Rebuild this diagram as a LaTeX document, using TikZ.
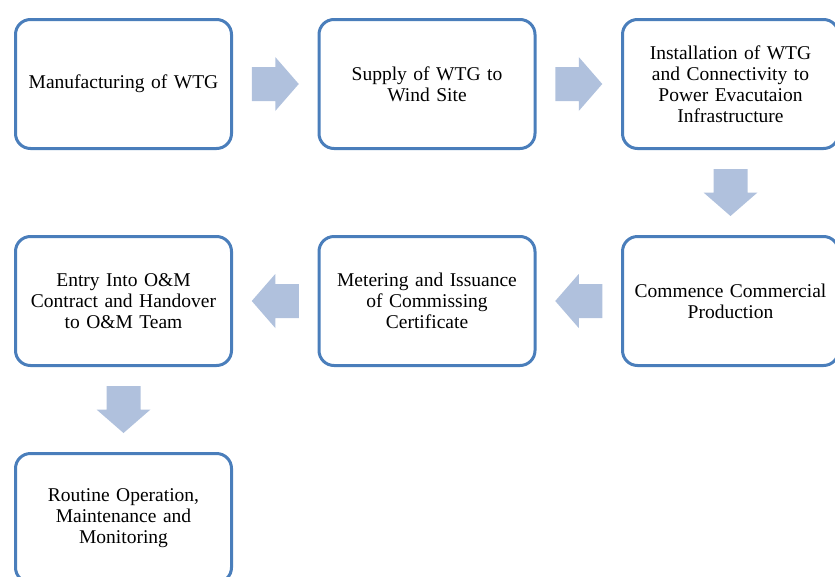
\documentclass[tikz,border=0pt]{standalone}
\usepackage{fontspec}
\setmainfont{Liberation Serif}
\usetikzlibrary{calc}
\definecolor{boxblue}{RGB}{74,126,187}
\definecolor{arrowfill}{RGB}{176,193,221}
\begin{document}
\begin{tikzpicture}[x=1pt,y=-1pt,
  stepbox/.style={draw=boxblue, line width=3pt, rounded corners=15pt,
    minimum width=216pt, minimum height=129pt, text width=210pt,
    align=center, font=\fontsize{19.5}{21}\selectfont, inner sep=0pt},
  blockarrow/.pic={\fill[arrowfill] (-23.5,-17) -- (0,-17) -- (0,-27)
    -- (23.5,0) -- (0,27) -- (0,17) -- (-23.5,17) -- cycle;}]
\path[use as bounding box] (0,0) rectangle (835,576);
\clip (0,0) rectangle (835,576);
\node[stepbox] (b1) at (123.5,84) {Manufacturing of WTG};
\node[stepbox] (b2) at (427,84) {Supply of WTG to\\Wind Site};
\node[stepbox] (b3) at (730.5,84) {Installation of WTG\\and Connectivity to\\Power Evacutaion\\Infrastructure};
\node[stepbox] (b6) at (730.5,301) {Commence Commercial\\Production};
\node[stepbox] (b5) at (427,301) {Metering and Issuance\\of Commissing\\Certificate};
\node[stepbox] (b4) at (123.5,301) {Entry Into O\&M\\Contract and Handover\\to O\&M Team};
\node[stepbox] (b7) at (123.5,518) {Routine Operation,\\Maintenance and\\Monitoring};
\coordinate (m1) at ($(b1.east)!0.5!(b2.west)$);
\coordinate (m2) at ($(b2.east)!0.5!(b3.west)$);
\coordinate (m3) at ($(b3.south)!0.5!(b6.north)$);
\coordinate (m4) at ($(b6.west)!0.5!(b5.east)$);
\coordinate (m5) at ($(b5.west)!0.5!(b4.east)$);
\coordinate (m6) at ($(b4.south)!0.5!(b7.north)$);
\pic at (m1) {blockarrow};
\pic at (m2) {blockarrow};
\pic[rotate=-90] at (m3) {blockarrow};
\pic[rotate=180] at (m4) {blockarrow};
\pic[rotate=180] at (m5) {blockarrow};
\pic[rotate=-90] at (m6) {blockarrow};
\end{tikzpicture}
\end{document}
